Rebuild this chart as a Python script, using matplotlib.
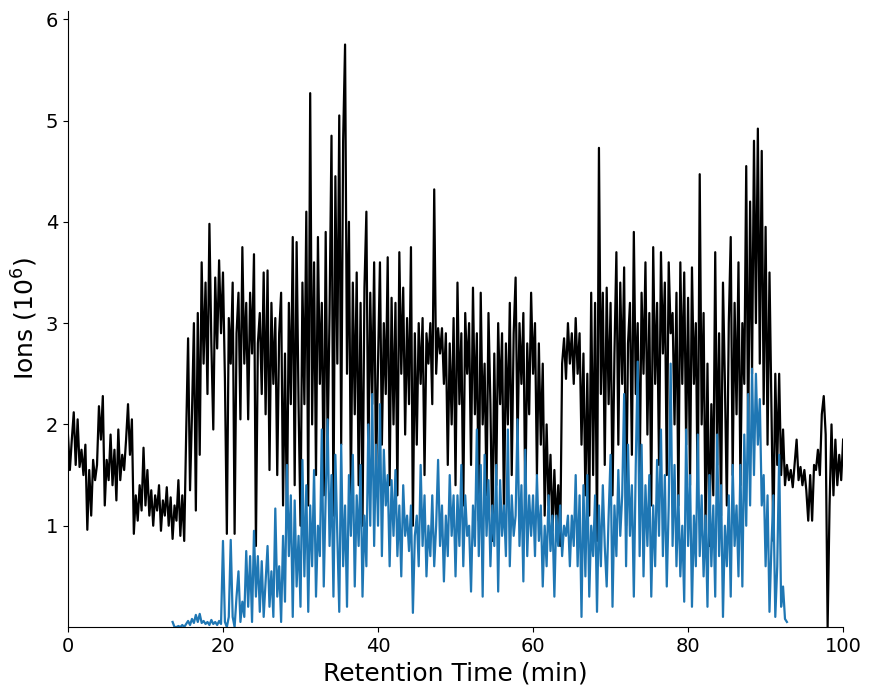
import numpy as np
import matplotlib
matplotlib.use("Agg")
import matplotlib.pyplot as plt

# total ion signal (black), sampled every 0.25 min from 0 to 100 min, in 10^6 ions
total_start = 0.0
total_step = 0.25
total_ions = [
    1.90, 1.55, 1.85, 2.12, 1.60, 2.05, 1.58, 1.75, 1.50, 1.80, 0.96, 1.55, 1.10, 1.65, 1.45, 1.60, 2.18, 1.85, 2.28, 1.20,
    1.65, 1.45, 1.90, 1.40, 1.75, 1.25, 1.95, 1.45, 1.70, 1.55, 1.85, 2.20, 1.70, 2.05, 0.92, 1.30, 1.05, 1.40, 1.15, 1.77,
    1.20, 1.55, 1.10, 1.35, 1.00, 1.30, 1.15, 1.40, 0.95, 1.25, 1.10, 1.38, 1.00, 1.28, 0.87, 1.20, 1.05, 1.45, 0.90, 1.30,
    0.85, 1.90, 2.85, 1.35, 2.10, 3.00, 1.15, 3.10, 1.70, 3.60, 2.60, 3.40, 2.30, 3.98, 2.80, 1.95, 3.45, 2.75, 3.62, 2.90,
    3.50, 2.45, 0.92, 3.05, 2.60, 3.40, 0.92, 2.90, 3.30, 2.05, 3.75, 2.60, 3.20, 2.05, 3.30, 2.70, 3.68, 0.80, 2.80, 3.10,
    2.30, 3.50, 2.10, 3.52, 1.55, 3.20, 2.40, 3.05, 1.50, 2.90, 3.30, 1.20, 2.70, 1.05, 3.20, 2.20, 3.85, 1.40, 3.80, 2.20,
    1.00, 3.40, 2.20, 4.10, 1.20, 5.27, 2.00, 3.60, 1.50, 3.85, 2.40, 3.20, 1.30, 3.90, 1.80, 3.10, 4.85, 1.10, 4.45, 2.60,
    5.05, 1.80, 4.80, 5.75, 2.50, 4.00, 1.30, 3.40, 2.10, 3.50, 1.40, 3.20, 1.00, 3.35, 4.10, 1.60, 3.30, 2.20, 3.60, 1.50,
    2.60, 3.60, 1.80, 3.00, 2.30, 3.65, 1.40, 3.25, 2.00, 3.20, 1.30, 3.70, 2.50, 3.35, 1.90, 3.05, 2.20, 3.75, 1.00, 2.90,
    1.80, 3.00, 2.40, 3.05, 1.50, 2.90, 2.60, 3.00, 2.20, 4.32, 2.50, 2.95, 2.70, 2.95, 2.40, 2.90, 1.60, 2.80, 2.00, 3.05,
    1.40, 3.40, 2.20, 2.90, 1.20, 3.10, 2.50, 3.00, 1.60, 3.35, 2.10, 2.90, 1.05, 3.30, 2.00, 2.60, 1.30, 3.10, 2.20, 0.85,
    2.70, 1.40, 3.00, 2.20, 2.90, 1.10, 2.80, 2.00, 3.20, 1.50, 2.90, 3.45, 1.80, 3.00, 2.40, 3.10, 1.20, 2.80, 2.10, 3.30,
    2.50, 3.00, 1.50, 2.80, 1.80, 2.60, 1.10, 2.00, 1.20, 1.70, 0.95, 1.55, 1.00, 1.40, 0.80, 2.60, 2.85, 2.45, 3.00, 2.60,
    2.90, 2.40, 3.05, 2.50, 2.90, 1.80, 2.70, 1.30, 2.50, 1.10, 3.30, 1.50, 3.20, 0.85, 4.73, 2.30, 3.30, 1.60, 3.35, 2.20,
    3.20, 1.30, 2.70, 3.70, 1.80, 3.40, 2.40, 3.55, 1.00, 2.80, 3.20, 1.70, 3.90, 2.30, 3.00, 1.40, 3.30, 2.50, 3.60, 1.90,
    3.10, 1.20, 3.75, 2.40, 3.20, 1.60, 3.70, 2.70, 3.40, 1.50, 3.60, 2.90, 3.10, 2.00, 3.30, 1.20, 3.60, 2.40, 3.50, 1.80,
    3.25, 1.40, 3.55, 2.40, 3.00, 1.20, 4.47, 2.00, 3.10, 0.95, 2.60, 0.80, 2.20, 1.30, 3.70, 1.60, 2.90, 1.10, 3.40, 2.40,
    1.20, 3.00, 3.85, 1.50, 3.20, 2.10, 3.60, 1.40, 3.00, 2.40, 4.55, 1.80, 4.20, 2.50, 4.80, 3.00, 4.92, 2.60, 4.70, 2.20,
    3.95, 1.80, 3.50, 2.20, 0.85, 2.50, 1.60, 2.50, 1.50, 1.95, 1.40, 1.60, 1.45, 1.55, 1.38, 1.62, 1.85, 1.45, 1.58, 1.40,
    1.55, 1.35, 1.05, 1.50, 1.05, 1.60, 1.55, 1.75, 1.50, 2.10, 2.28, 1.90, 0.00, 1.20, 2.00, 1.30, 1.85, 1.40, 1.70, 1.45,
    1.85,
]

# second signal (blue), sampled every 0.25 min from 13.5 min, in 10^6 ions
sub_start = 13.5
sub_step = 0.25
sub_ions = [
    0.05, 0.00, 0.00, 0.01, 0.00, 0.02,
    0.00, 0.03, 0.06, 0.02, 0.08, 0.04, 0.12, 0.05, 0.13, 0.04, 0.06, 0.03, 0.05, 0.02, 0.07, 0.03, 0.05, 0.02, 0.06, 0.03,
    0.85, 0.05, 0.00, 0.10, 0.86, 0.10, 0.00, 0.30, 0.55, 0.05, 0.25, 0.10, 0.75, 0.20, 0.70, 0.05, 0.95, 0.30, 0.70, 0.15,
    0.65, 0.10, 0.45, 0.80, 0.20, 0.55, 0.10, 1.17, 0.30, 0.60, 0.05, 0.90, 0.25, 1.60, 0.70, 1.30, 0.10, 1.25, 0.40, 0.90,
    0.20, 1.65, 0.50, 1.40, 0.15, 1.20, 0.60, 1.55, 0.30, 1.00, 0.70, 1.95, 0.40, 1.30, 2.05, 0.80, 1.50, 0.30, 1.70, 0.90,
    0.15, 1.80, 0.60, 1.20, 0.20, 1.50, 0.90, 1.70, 0.40, 1.30, 0.80, 1.60, 0.30, 1.10, 0.60, 2.00, 1.00, 2.30, 0.80, 1.80,
    1.00, 2.20, 0.70, 1.75, 1.20, 1.50, 0.60, 1.45, 0.90, 1.55, 0.70, 1.20, 0.50, 1.40, 0.90, 1.10, 0.75, 1.20, 0.14, 0.90,
    1.10, 0.60, 1.60, 0.80, 1.30, 0.50, 1.00, 0.70, 1.30, 0.60, 1.00, 1.65, 0.80, 1.20, 0.45, 1.10, 0.70, 1.50, 0.90, 1.30,
    0.50, 1.30, 0.80, 1.60, 0.60, 1.30, 0.90, 1.00, 0.35, 1.20, 0.80, 1.95, 0.70, 1.60, 0.30, 1.70, 0.90, 1.45, 0.60, 1.20,
    0.80, 1.60, 0.35, 1.45, 0.90, 1.20, 0.70, 1.95, 0.60, 1.30, 0.90, 1.10, 2.05, 0.80, 1.40, 0.45, 1.75, 0.70, 1.30, 0.90,
    1.30, 0.70, 1.50, 0.85, 1.20, 0.40, 1.00, 0.60, 1.30, 0.75, 1.10, 0.30, 1.10, 0.80, 1.20, 0.70, 1.00, 0.90, 1.10, 0.60,
    1.10, 0.80, 1.50, 0.60, 1.30, 0.10, 1.40, 0.50, 1.50, 0.30, 1.00, 0.70, 1.30, 0.15, 1.20, 0.60, 1.40, 0.80, 0.40, 1.10,
    1.70, 0.20, 1.20, 0.70, 1.55, 0.90, 1.30, 2.30, 0.60, 1.80, 0.90, 1.40, 0.30, 1.60, 2.62, 0.70, 1.80, 0.50, 1.40, 0.80,
    1.50, 0.30, 1.20, 0.60, 1.65, 0.90, 1.95, 0.70, 1.50, 0.40, 1.20, 2.60, 0.80, 1.60, 0.60, 1.30, 0.50, 1.00, 0.25, 1.95,
    0.80, 1.50, 0.20, 1.10, 0.60, 1.90, 0.70, 1.30, 0.50, 1.10, 0.20, 1.50, 0.60, 1.20, 0.30, 1.90, 0.70, 1.40, 0.10, 1.00,
    0.60, 1.30, 0.30, 1.60, 0.80, 1.20, 0.50, 1.60, 0.40, 1.90, 1.00, 2.30, 1.20, 2.55, 1.50, 2.50, 1.80, 2.25, 1.20, 1.50,
    0.60, 1.30, 0.15, 0.80, 1.30, 0.10, 0.60, 1.70, 0.20, 0.40, 0.08, 0.05,
]

y_ticks = [1, 2, 3, 4, 5, 6]
x_ticks = [0, 20, 40, 60, 80, 100]

total_time = total_start + total_step * np.arange(len(total_ions))
sub_time = sub_start + sub_step * np.arange(len(sub_ions))

fig, ax = plt.subplots(figsize=(8.71, 6.94), dpi=100)
fig.subplots_adjust(left=0.078, right=0.968, bottom=0.0965, top=0.984)

ax.plot(total_time, total_ions, color='k', linewidth=1.6)
ax.plot(sub_time, sub_ions, color='#1f77b4', linewidth=1.6)

ax.set_xlim(0, 100)
ax.set_ylim(0, 6.08)
ax.set_xticks(x_ticks)
ax.set_yticks(y_ticks)
ax.tick_params(labelsize=14)
ax.set_xlabel('Retention Time (min)', fontsize=18)
ax.set_ylabel('Ions ($10^6$)', fontsize=18)
ax.spines['top'].set_visible(False)
ax.spines['right'].set_visible(False)

fig.savefig('out.png', dpi=100)
